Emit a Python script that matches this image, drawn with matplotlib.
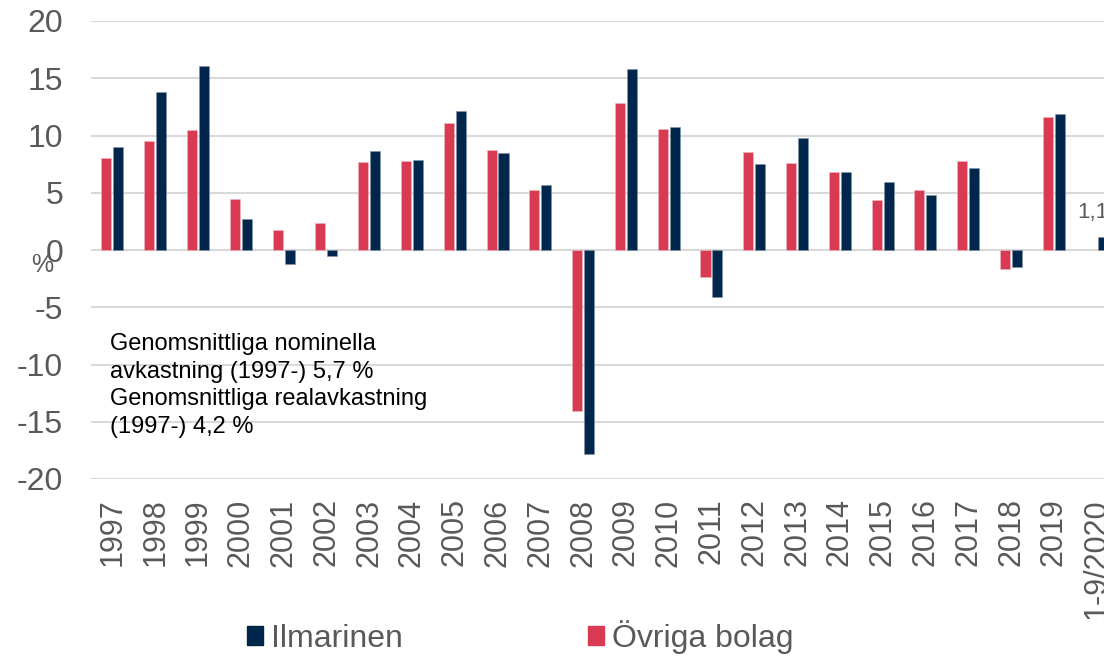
import matplotlib
matplotlib.use("Agg")
import matplotlib.pyplot as plt
import numpy as np
from matplotlib.patches import Patch

plt.rcParams['font.family'] = ['Liberation Sans', 'DejaVu Sans']
plt.rcParams['axes.unicode_minus'] = False

years = ['1997', '1998', '1999', '2000', '2001', '2002', '2003', '2004', '2005', '2006',
         '2007', '2008', '2009', '2010', '2011', '2012', '2013', '2014', '2015', '2016',
         '2017', '2018', '2019', '1-9/2020']
ovriga = [8.0, 9.5, 10.45, 4.45, 1.75, 2.35, 7.65, 7.75, 11.1, 8.75,
          5.2, -14.1, 12.85, 10.6, -2.4, 8.55, 7.6, 6.8, 4.35, 5.2,
          7.75, -1.65, 11.6, np.nan]
ilmarinen = [9.0, 13.8, 16.1, 2.7, -1.25, -0.55, 8.65, 7.85, 12.1, 8.5,
             5.7, -17.8, 15.8, 10.75, -4.1, 7.5, 9.8, 6.8, 5.95, 4.8,
             7.2, -1.5, 11.85, 1.1]

red = '#D83A52'
navy = '#00264C'
grey = '#595959'

fig = plt.figure(figsize=(11.04, 6.57), dpi=100)
# plot area runs past the right edge like in the original slide
ax = fig.add_axes([91 / 1104, 1 - 479 / 657, 1027 / 1104, 458 / 657])

x = np.arange(len(years))
w = 0.235
ax.bar(x - 0.14, ovriga, w, color=red, edgecolor='#F2B8C0', linewidth=0.4, zorder=3)
ax.bar(x + 0.14, ilmarinen, w, color=navy, edgecolor='#7F93A8', linewidth=0.4, zorder=3)

ax.text(x[-1] - 0.46, ilmarinen[-1] + 2.2, '1,1', ha='left', va='center',
        fontsize=16, color=grey)

ax.set_xlim(-0.5, len(years) - 0.5)
ax.set_ylim(-20, 20)
ax.set_yticks(np.arange(-20, 21, 5))
ax.set_xticks(x)
ax.set_xticklabels(years, rotation=90, va='top')
ax.grid(axis='y', color='#D9D9D9', linewidth=1.5, zorder=0)
for s in ax.spines.values():
    s.set_visible(False)
ax.tick_params(axis='y', length=0, pad=20, labelsize=23, labelcolor=grey)
ax.tick_params(axis='x', length=0, pad=14, labelsize=22, labelcolor=grey)

fig.text(42 / 1104, 1 - 265 / 657, '%', fontsize=18, color=grey, ha='center', va='center')

fig.text(110 / 1104, 1 - 333 / 657,
         'Genomsnittliga nominella\navkastning (1997-) 5,7 %\n'
         'Genomsnittliga realavkastning\n(1997-) 4,2 %',
         fontsize=17, color='black', ha='left', va='top', linespacing=1.33)

handles = [Patch(color=navy, label='Ilmarinen'), Patch(color=red, label='Övriga bolag')]
fig.legend(handles=handles, loc='center', bbox_to_anchor=(520 / 1104, 1 - 637 / 657),
           ncol=2, frameon=False, fontsize=23, labelcolor=grey,
           handlelength=0.5, handleheight=0.5, handletextpad=0.25, columnspacing=5.8)

fig.savefig('out.png', dpi=100)
